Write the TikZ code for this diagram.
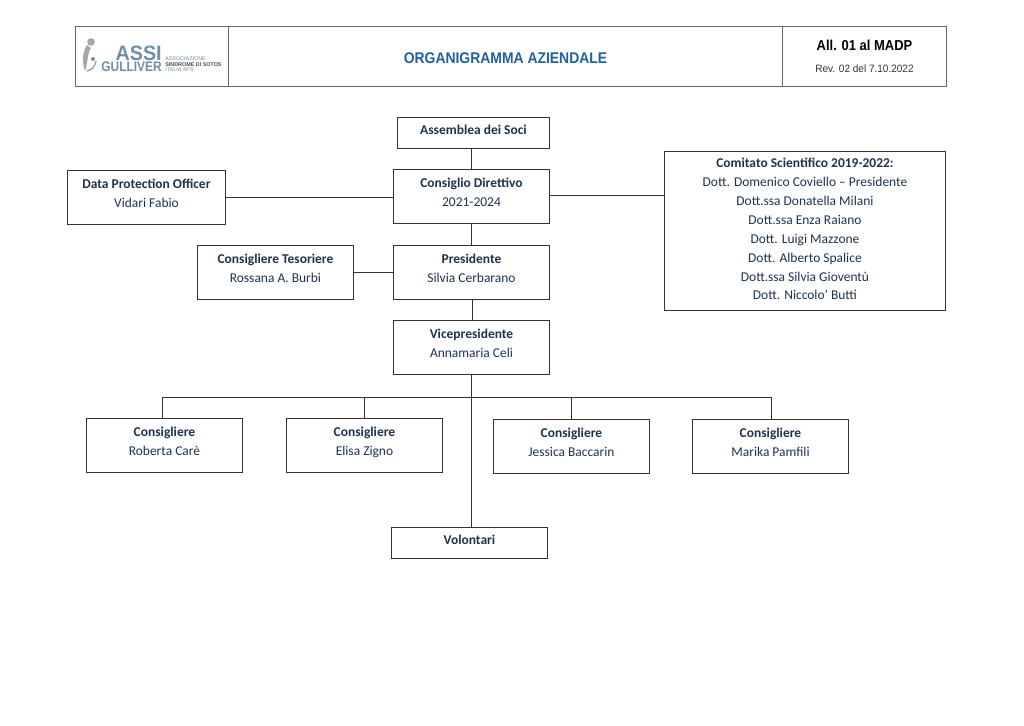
\documentclass[tikz,border=0pt]{standalone}
\usepackage{fontspec}
\setmainfont{Carlito}
\newfontfamily\hdfont{Liberation Sans}
\definecolor{boxtxt}{HTML}{1F3350}
\definecolor{ttl}{HTML}{1F60A0}
\definecolor{logoc}{HTML}{6F8FA6}
\definecolor{edge}{HTML}{333333}
\tikzset{
 orgbox/.style={draw=edge,line width=0.7pt,fill=white,text=boxtxt,align=center,inner sep=0pt,font=\fontsize{10.1}{14.2}\selectfont},
 link/.style={draw=edge,line width=0.7pt},
 hdbox/.style={draw=black!60,line width=0.6pt,inner sep=0pt},
 logotext/.style={text=logoc,inner sep=0pt},
}
\def\upby{6.8pt}
\newcommand{\bx}[6]{\node[orgbox,minimum width=#4*0.75pt,minimum height=#5*0.75pt,anchor=north west] (#1) at (#2,#3) {#6\\[\dimexpr\upby-14.2pt\relax]\mbox{}};}
\begin{document}
\begin{tikzpicture}[x=0.75pt,y=-0.75pt]
\useasboundingbox (0,0) rectangle (1024,725);
% header
\node[hdbox,minimum width=153*0.75pt,minimum height=59.5*0.75pt,anchor=north west] (hlogo) at (75,26) {};
\node[hdbox,minimum width=554*0.75pt,minimum height=59.5*0.75pt,anchor=north west] (htitle) at (228,26) {};
\node[hdbox,minimum width=164*0.75pt,minimum height=59.5*0.75pt,anchor=north west] (hrev) at (782,26) {};
\node[text=ttl,font=\hdfont\bfseries\fontsize{11.6}{13}\selectfont] (ttl) at (505.5,58) {\scalebox{0.9}[1]{ORGANIGRAMMA AZIENDALE}};
\node[text=black,font=\hdfont\bfseries\fontsize{10.8}{13}\selectfont] (all) at (864.5,45) {\scalebox{0.9}[1]{All. 01 al MADP}};
\node[text=black!80,font=\hdfont\fontsize{8}{10}\selectfont] (rev) at (864.5,69) {\scalebox{0.94}[1]{Rev. 02 del 7.10.2022}};
% logo
\fill[black!35] (91,42) circle (3.8);
\fill[black!35] (87,45) .. controls (82,53) and (82,63) .. (85,71) .. controls (88,63) and (87,54) .. (91,48) -- cycle;
\fill[logoc] (93,59) circle (2);
\draw[logoc!80,line width=1pt] (87,71) .. controls (92,70) and (95,66) .. (96,61);
\node[logotext,font=\hdfont\bfseries\fontsize{10.4}{8.25}\selectfont,align=right,anchor=east] (la) at (162,58.5) {{\fontsize{15.6}{8.25}\selectfont\scalebox{0.95}[1]{ASSI}}\hspace{1.5pt}\\\scalebox{0.86}[1]{GULLIVER}};
\node[logotext,font=\hdfont\fontsize{4.05}{4.5}\selectfont,align=left,anchor=west] (lt) at (165,64.5) {ASSOCIAZIONE\\[-0.4pt]{\color{black!70}\bfseries SINDROME DI SOTOS}\\[-0.4pt]ITALIA APS};
% boxes
\def\upby{3.8pt}
\bx{soci}{397}{117}{152}{30.5}{\textbf{Assemblea dei Soci}}
\bx{vol}{391}{527}{156}{30.5}{\textbf{Volontari}}
\def\upby{6.8pt}
\bx{cd}{393}{169}{156}{54}{\textbf{Consiglio Direttivo}\\2021-2024}
\bx{dpo}{67}{170}{158}{54}{\textbf{Data Protection Officer}\\Vidari Fabio}
\bx{pres}{393}{245}{156}{54}{\textbf{Presidente}\\Silvia Cerbarano}
\bx{tes}{197}{245}{156}{54}{\textbf{Consigliere Tesoriere}\\Rossana A. Burbi}
\bx{vice}{393}{320}{156}{54}{\textbf{Vicepresidente}\\Annamaria Celi}
\bx{c1}{86}{418}{156}{54}{\textbf{Consigliere}\\Roberta Carè}
\bx{c2}{286}{418}{156}{54}{\textbf{Consigliere}\\Elisa Zigno}
\bx{c3}{493}{419}{156}{54}{\textbf{Consigliere}\\Jessica Baccarin}
\bx{c4}{692}{419}{156}{54}{\textbf{Consigliere}\\Marika Pamfili}
\def\upby{3pt}
\bx{cs}{664}{151}{281}{159}{\textbf{Comitato Scientifico 2019-2022:}\\Dott. Domenico Coviello – Presidente\\Dott.ssa Donatella Milani\\Dott.ssa Enza Raiano\\Dott. Luigi Mazzone\\Dott. Alberto Spalice\\Dott.ssa Silvia Gioventù\\Dott. Niccolo’ Butti}
% connectors
\draw[link] (soci.south -| 471,0) -- (cd.north -| 471,0);
\draw[link] (cd.south -| 471,0) -- (pres.north -| 471,0);
\draw[link] (pres.south -| 472,0) -- (vice.north -| 472,0);
\draw[link] (dpo.east |- 0,197.5) -- (cd.west |- 0,197.5);
\draw[link] (cd.east |- 0,195.5) -- (cs.west |- 0,195.5);
\draw[link] (tes.east |- 0,272) -- (pres.west |- 0,272);
\draw[link] (vice.south -| 471,0) -- (vol.north -| 471,0);
\coordinate (busl) at (162.5,397);
\coordinate (busr) at (771,397);
\draw[link] (c1.north -| busl) -- (busl) -- (busr) -- (c4.north -| busr);
\draw[link] (c2.north) -- (c2.north |- busl);
\draw[link] (c3.north -| 571,0) -- (571,397);
\end{tikzpicture}
\end{document}
